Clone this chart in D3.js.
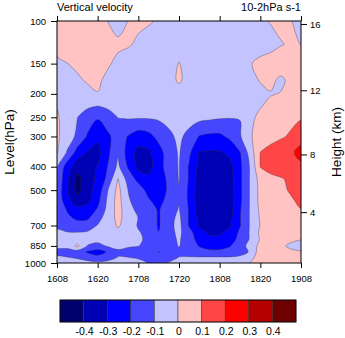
<!DOCTYPE html>
<html>
<head>
<meta charset="utf-8">
<script src="https://cdn.jsdelivr.net/npm/d3@7"></script>
<style>
  body { margin: 0; background: #fff; }
  text { font-family: "Liberation Sans", Arial, Helvetica, sans-serif; fill: #000; }
</style>
</head>
<body>
<script>
// pressure levels (hPa), top to bottom
var levels = [100, 125, 150, 175, 200, 225, 250, 300, 350, 400, 450, 500,
  550, 600, 650, 700, 750, 800, 850, 900, 950, 1000];

// hours after 16 08h, every 3 h
var hours = [0, 3, 6, 9, 12, 15, 18, 21, 24, 27, 30, 33, 36, 39, 42, 45, 48,
  51, 54, 57, 60, 63, 66, 69, 72];

var timeTicks = [0, 12, 24, 36, 48, 60, 72];
var timeLabels = ["1608", "1620", "1708", "1720", "1808", "1820", "1908"];
var pressureTicks = [100, 150, 200, 250, 300, 400, 500, 700, 850, 1000];
var heightTicks = [4, 8, 12, 16];
var contourLevels = [-0.4, -0.3, -0.2, -0.1, 0, 0.1, 0.2, 0.3, 0.4];
var colors = ["#00006e", "#0000b4", "#0000ff", "#4646ff", "#c3c3ff",
  "#ffc3c3", "#ff4646", "#ff0000", "#b40000", "#6e0000"];

// vertical velocity (10^-2 hPa s-1), one row per level
var omega = [
  /* 100 */ [0.06, 0.06, 0.05, 0.04, 0.02, -0.002, -0.03, 0.002, 0.02, 0.01, -0.01, -0.03, -0.04, -0.05, -0.05, -0.05, -0.05, -0.05, -0.04, -0.03, -0.02, 0.005, 0.02, 0.003, -0.02],
  /* 125 */ [0.05, 0.06, 0.06, 0.05, 0.05, 0.04, 0.015, 0.01, -0.017, -0.04, -0.05, -0.05, -0.05, -0.05, -0.05, -0.05, -0.05, -0.05, -0.05, -0.04, -0.035, -0.03, -0.005, 0.01, -0.001],
  /* 150 */ [-0.03, -0.002, 0.02, 0.04, 0.04, 0.01, -0.02, -0.05, -0.05, -0.05, -0.05, -0.05, 0.005, -0.05, -0.05, -0.05, -0.05, -0.04, -0.03, -0.005, 0.02, 0.04, 0.05, 0.05, 0.04],
  /* 175 */ [-0.04, -0.03, -0.015, 0.012, 0.015, -0.02, -0.05, -0.05, -0.05, -0.05, -0.05, -0.03, 0.012, -0.03, -0.05, -0.05, -0.05, -0.04, -0.03, -0.02, 0.005, 0.02, -0.015, 0.02, 0.04],
  /* 200 */ [-0.05, -0.05, -0.05, -0.03, -0.003, -0.03, -0.05, -0.05, -0.05, -0.05, -0.05, -0.05, -0.03, -0.05, -0.05, -0.05, -0.05, -0.05, -0.04, -0.03, -0.02, -0.005, 0.003, 0.03, 0.04],
  /* 225 */ [-0.005, -0.05, -0.07, -0.085, -0.102, -0.085, -0.065, -0.06, -0.06, -0.06, -0.06, -0.06, -0.06, -0.06, -0.06, -0.06, -0.06, -0.065, -0.07, -0.04, -0.005, 0.02, 0.04, 0.05, 0.06],
  /* 250 */ [0.01, -0.04, -0.098, -0.15, -0.19, -0.14, -0.098, -0.09, -0.09, -0.09, -0.085, -0.07, -0.06, -0.06, -0.07, -0.08, -0.09, -0.095, -0.098, -0.02, 0.02, 0.04, 0.06, 0.08, 0.09],
  /* 300 */ [0.015, -0.05, -0.12, -0.21, -0.28, -0.22, -0.15, -0.205, -0.25, -0.23, -0.17, -0.12, -0.08, -0.13, -0.205, -0.22, -0.22, -0.18, -0.11, -0.01, 0.04, 0.07, 0.09, 0.11, 0.15],
  /* 350 */ [0.005, -0.11, -0.24, -0.305, -0.33, -0.22, -0.11, -0.24, -0.33, -0.32, -0.24, -0.15, -0.09, -0.18, -0.305, -0.31, -0.31, -0.28, -0.205, -0.06, 0.102, 0.13, 0.15, 0.18, 0.24],
  /* 400 */ [-0.09, -0.25, -0.36, -0.34, -0.295, -0.195, -0.08, -0.21, -0.33, -0.33, -0.25, -0.14, -0.095, -0.21, -0.33, -0.36, -0.36, -0.33, -0.22, -0.09, 0.103, 0.14, 0.16, 0.17, 0.17],
  /* 450 */ [-0.11, -0.28, -0.43, -0.35, -0.28, -0.17, 0.002, -0.14, -0.23, -0.28, -0.27, -0.17, -0.095, -0.21, -0.35, -0.38, -0.38, -0.34, -0.22, -0.09, 0.04, 0.07, 0.09, 0.12, 0.15],
  /* 500 */ [-0.12, -0.29, -0.43, -0.34, -0.26, -0.102, 0.03, -0.102, -0.15, -0.23, -0.26, -0.18, -0.105, -0.22, -0.36, -0.39, -0.39, -0.35, -0.22, -0.09, 0.03, 0.06, 0.08, 0.11, 0.14],
  /* 550 */ [-0.12, -0.27, -0.36, -0.33, -0.23, -0.08, 0.04, -0.09, -0.14, -0.19, -0.24, -0.16, -0.105, -0.22, -0.36, -0.39, -0.39, -0.35, -0.22, -0.09, 0.03, 0.05, 0.07, 0.09, 0.12],
  /* 600 */ [-0.11, -0.21, -0.27, -0.26, -0.19, -0.07, 0.035, -0.06, -0.13, -0.16, -0.21, -0.14, -0.095, -0.21, -0.35, -0.38, -0.38, -0.34, -0.21, -0.09, 0.02, 0.04, 0.06, 0.08, 0.098],
  /* 650 */ [-0.11, -0.18, -0.22, -0.22, -0.13, -0.06, 0.03, -0.05, -0.102, -0.14, -0.21, -0.13, -0.08, -0.21, -0.33, -0.37, -0.37, -0.33, -0.205, -0.09, 0.01, 0.03, 0.05, 0.06, 0.08],
  /* 700 */ [-0.11, -0.14, -0.16, -0.14, -0.095, -0.05, 0.01, -0.04, -0.11, -0.14, -0.21, -0.13, -0.07, -0.21, -0.31, -0.35, -0.35, -0.31, -0.205, -0.09, 0.005, 0.02, 0.03, 0.04, 0.04],
  /* 750 */ [-0.09, -0.095, -0.095, -0.09, -0.07, -0.04, -0.02, -0.05, -0.09, -0.13, -0.198, -0.13, -0.08, -0.16, -0.27, -0.31, -0.31, -0.27, -0.18, -0.09, 0.02, 0.03, 0.03, 0.03, 0.02],
  /* 800 */ [-0.07, -0.06, -0.05, -0.06, -0.07, -0.06, -0.05, -0.06, -0.085, -0.12, -0.15, -0.13, -0.09, -0.15, -0.24, -0.28, -0.28, -0.24, -0.17, -0.09, 0.01, 0.02, 0.01, 0.01, 0.002],
  /* 850 */ [-0.08, -0.06, 0.02, -0.105, -0.13, -0.09, -0.07, -0.09, -0.098, -0.12, -0.14, -0.14, -0.095, -0.15, -0.205, -0.23, -0.23, -0.205, -0.15, -0.06, 0.03, 0.03, 0.01, -0.01, -0.03],
  /* 900 */ [-0.13, -0.15, -0.15, -0.21, -0.24, -0.19, -0.12, -0.13, -0.14, -0.16, -0.203, -0.17, -0.12, -0.15, -0.17, -0.18, -0.18, -0.17, -0.14, -0.09, 0.06, 0.02, 0.02, 0.01, 0.005],
  /* 950 */ [-0.085, -0.095, -0.11, -0.14, -0.17, -0.14, -0.095, -0.098, -0.11, -0.13, -0.15, -0.13, -0.097, -0.09, -0.09, -0.09, -0.09, -0.09, -0.08, -0.02, 0.03, 0.02, 0.02, 0.02, 0.02],
  /* 1000 */ [-0.05, -0.06, -0.06, -0.07, -0.08, -0.07, -0.06, -0.06, -0.07, -0.105, -0.12, -0.095, -0.07, -0.06, -0.05, -0.05, -0.05, -0.04, -0.03, 0.002, 0.03, 0.03, 0.03, 0.03, 0.03]
];

var width = 345, height = 338;
var plotL = 57, plotR = 301, plotT = 21, plotB = 263;

var svg = d3.select("body").append("svg")
  .attr("width", width).attr("height", height);

var x = d3.scaleLinear().domain([0, 72]).range([plotL, plotR]);
var y = d3.scaleLog().domain([100, 1000]).range([plotT, plotB]);

// standard atmosphere: height (km) -> pressure (hPa)
function heightToPres(z) {
  var m = z * 1000;
  if (m <= 11000) return 1013.25 * Math.pow(1 - 2.25577e-5 * m, 5.25588);
  return 226.32 * Math.exp(-(m - 11000) / 6341.6);
}

// contours on the data grid
var nx = hours.length, ny = levels.length;
var cs = d3.contours().size([nx, ny]).thresholds(contourLevels)(omega.flat());

var yLev = levels.map(function (p) { return y(p); });
var dh = hours[1] - hours[0];
function gx(c) { return x(hours[0] + (c - 0.5) * dh); }
function gy(c) {
  var f = c - 0.5;
  var j = Math.max(0, Math.min(ny - 2, Math.floor(f)));
  return yLev[j] + (f - j) * (yLev[j + 1] - yLev[j]);
}

var ringLine = d3.line().curve(d3.curveCatmullRomClosed.alpha(0.5));
function pathOf(geom) {
  return geom.coordinates.map(function (poly) {
    return poly.map(function (ring) {
      return ringLine(ring.slice(0, -1).map(function (p) { return [gx(p[0]), gy(p[1])]; }));
    }).join("");
  }).join("");
}

svg.append("clipPath").attr("id", "plotclip")
  .append("rect")
  .attr("x", plotL).attr("y", plotT)
  .attr("width", plotR - plotL).attr("height", plotB - plotT);

var plot = svg.append("g").attr("clip-path", "url(#plotclip)");

plot.append("rect")
  .attr("x", plotL).attr("y", plotT)
  .attr("width", plotR - plotL).attr("height", plotB - plotT)
  .attr("fill", colors[0]);

plot.selectAll("path.fill")
  .data(cs)
  .join("path")
  .attr("class", "fill")
  .attr("d", pathOf)
  .attr("fill", function (d, i) { return colors[i + 1]; });

plot.selectAll("path.line")
  .data(cs)
  .join("path")
  .attr("class", "line")
  .attr("d", pathOf)
  .attr("fill", "none")
  .attr("stroke", "#333")
  .attr("stroke-opacity", 0.45)
  .attr("stroke-width", 0.8);

// frame
svg.append("rect")
  .attr("x", plotL).attr("y", plotT)
  .attr("width", plotR - plotL).attr("height", plotB - plotT)
  .attr("fill", "none").attr("stroke", "#000").attr("stroke-width", 1);

function styleAxis(g, size) {
  g.select(".domain").remove();
  g.selectAll("line").attr("stroke", "#000");
  g.selectAll("text").attr("font-size", size).attr("font-family", null).attr("fill", "#000");
}

svg.append("g")
  .attr("transform", "translate(" + plotL + ",0)")
  .call(d3.axisLeft(y).tickValues(pressureTicks).tickFormat(d3.format("d"))
    .tickSize(6).tickPadding(5))
  .call(styleAxis, 9.5);

svg.append("g")
  .attr("transform", "translate(0," + plotB + ")")
  .call(d3.axisBottom(x).tickValues(timeTicks)
    .tickFormat(function (d, i) { return timeLabels[i]; })
    .tickSize(5).tickPadding(7))
  .call(styleAxis, 9.5);

svg.append("g")
  .attr("transform", "translate(0," + plotT + ")")
  .call(d3.axisTop(x).tickValues(timeTicks).tickFormat("").tickSize(5))
  .call(styleAxis, 9.5);

svg.append("g")
  .attr("transform", "translate(" + plotR + ",0)")
  .call(d3.axisRight(y).tickValues(heightTicks.map(heightToPres))
    .tickFormat(function (d, i) { return heightTicks[i]; })
    .tickSize(6).tickPadding(3))
  .call(styleAxis, 9.5);

// titles
svg.append("text")
  .attr("x", plotL).attr("y", 11)
  .attr("font-size", 11)
  .text("Vertical velocity");

svg.append("text")
  .attr("x", plotR).attr("y", 11)
  .attr("text-anchor", "end")
  .attr("font-size", 11)
  .text("10-2hPa s-1");

svg.append("text")
  .attr("transform", "translate(14," + (plotT + plotB) / 2 + ") rotate(-90)")
  .attr("text-anchor", "middle")
  .attr("font-size", 13.5)
  .text("Level(hPa)");

svg.append("text")
  .attr("transform", "translate(341," + (plotT + plotB) / 2 + ") rotate(-90)")
  .attr("text-anchor", "middle")
  .attr("font-size", 13.5)
  .text("Height (km)");

// colour bar
var barX = d3.scaleLinear().domain([0, colors.length]).range([60, 296]);
var bar = svg.append("g");

bar.selectAll("rect")
  .data(colors)
  .join("rect")
  .attr("x", function (d, i) { return barX(i); })
  .attr("y", 300)
  .attr("width", barX(1) - barX(0))
  .attr("height", 22)
  .attr("fill", function (d) { return d; })
  .attr("stroke", "#333")
  .attr("stroke-width", 0.5);

bar.append("rect")
  .attr("x", barX(0)).attr("y", 300)
  .attr("width", barX(colors.length) - barX(0)).attr("height", 22)
  .attr("fill", "none").attr("stroke", "#000").attr("stroke-width", 0.8);

bar.selectAll("text")
  .data(contourLevels)
  .join("text")
  .attr("x", function (d, i) { return barX(i + 1) + 1; })
  .attr("y", 335)
  .attr("text-anchor", "middle")
  .attr("font-size", 10.5)
  .text(function (d) { return d; });
</script>
</body>
</html>
